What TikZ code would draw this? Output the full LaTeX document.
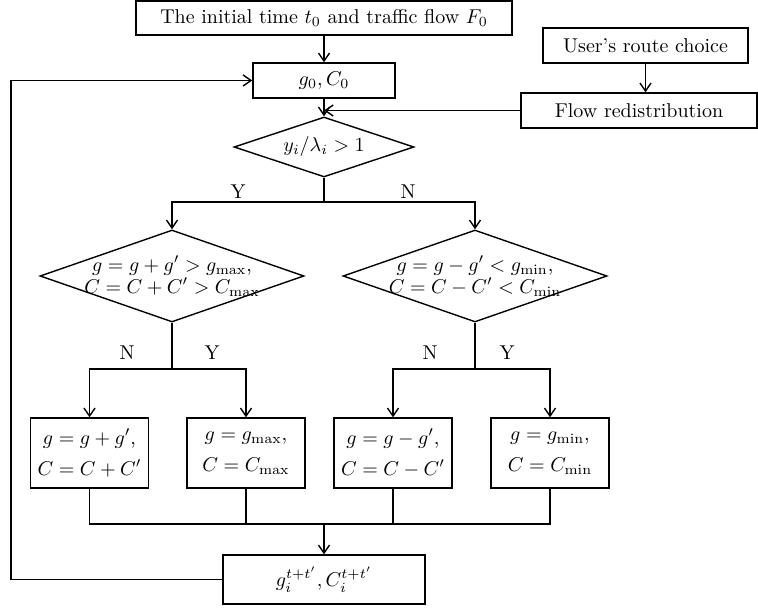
\documentclass[tikz,border=0pt]{standalone}
\usetikzlibrary{shapes.geometric,arrows.meta}
\begin{document}
\tikzset{
 box/.style={draw, line width=0.7pt, inner sep=0pt, align=center, font=\fontsize{10}{15.5}\selectfont},
 dia/.style={draw, diamond, line width=0.7pt, inner sep=0pt},
 dtext/.style={inner sep=0pt, align=center, font=\fontsize{10}{11}\selectfont},
 lbl/.style={font=\fontsize{10}{12}\selectfont, inner sep=0pt},
 arr/.style={-{Straight Barb[length=4pt,width=5.5pt]}, line width=0.7pt},
 ln/.style={line width=0.7pt}
}
\begin{tikzpicture}[x=0.5pt,y=-0.5pt]
\useasboundingbox (0,0) rectangle (758,609);
% boxes
\node[box, minimum width=188pt, minimum height=17pt] (top) at (324,18) {The initial time $t_0$ and traffic flow $F_0$};
\node[box, minimum width=71pt, minimum height=17.5pt] (g0) at (324,80.5) {$g_0, C_0$};
\node[box, minimum width=102.5pt, minimum height=17.5pt] (user) at (645.5,45.5) {User's route choice};
\node[box, minimum width=118pt, minimum height=17.5pt] (flow) at (639,110.5) {Flow redistribution};
% diamonds
\node[dia, minimum width=90pt, minimum height=30pt] (d1) at (324,147) {};
\node[dtext] (d1t) at (d1.center) {$y_i/\lambda_i > 1$};
\node[dia, minimum width=132pt, minimum height=46pt] (d2) at (172,276) {};
\node[dtext] (d2t) at (d2.center) {$g = g + g' > g_{\max}$,\\ $C = C + C' > C_{\max}$};
\node[dia, minimum width=132pt, minimum height=46pt] (d3) at (475,276) {};
\node[dtext] (d3t) at (d3.center) {$g = g - g' < g_{\min}$,\\ $C = C - C' < C_{\min}$};
% result boxes
\node[box, minimum width=59pt, minimum height=35pt] (b1) at (89.5,453) {$g = g + g'$,\\ $C = C + C'$};
\node[box, minimum width=59pt, minimum height=35pt] (b2) at (246,453) {$g = g_{\max}$,\\ $C = C_{\max}$};
\node[box, minimum width=59pt, minimum height=35pt] (b3) at (393,453) {$g = g - g'$,\\ $C = C - C'$};
\node[box, minimum width=59pt, minimum height=35pt] (b4) at (550,453) {$g = g_{\min}$,\\ $C = C_{\min}$};
\node[box, minimum width=101pt, minimum height=24.5pt] (bb) at (324,579.5) {$g_i^{t+t'}, C_i^{t+t'}$};
% labels
\node[lbl] (y1) at (238,192) {Y};
\node[lbl] (n1) at (408,192) {N};
\node[lbl] (n2) at (127,353) {N};
\node[lbl] (y2) at (212,353) {Y};
\node[lbl] (n3) at (430,353) {N};
\node[lbl] (y3) at (507,353) {Y};
% coordinates
\coordinate (s1) at (324,202);
\coordinate (s2) at (172,369);
\coordinate (s3) at (475,369);
\coordinate (m) at (324,524);
\coordinate (fbx) at (11,300);
% connectors
\draw[arr] (top.south) -- (g0.north);
\draw[arr] (g0.south) -- (d1.north);
\draw[arr] (user.south) -- (user.south |- flow.north);
\draw[arr] (flow.west) -- (flow.west -| g0.south);
\draw[ln] (d1.south) -- (s1);
\draw[arr] (s1) -| (d2.north);
\draw[arr] (s1) -| (d3.north);
\draw[ln] (d2.south) -- (s2);
\draw[arr] (s2) -| (b1.north);
\draw[arr] (s2) -| (b2.north);
\draw[ln] (d3.south) -- (s3);
\draw[arr] (s3) -| (b3.north);
\draw[arr] (s3) -| (b4.north);
\draw[ln] (b1.south) |- (m);
\draw[ln] (b2.south) |- (m);
\draw[ln] (b3.south) |- (m);
\draw[ln] (b4.south) |- (m);
\draw[arr] (m) -- (bb.north);
\draw[arr] (bb.west) -| (fbx) |- (g0.west);
\end{tikzpicture}
\end{document}
